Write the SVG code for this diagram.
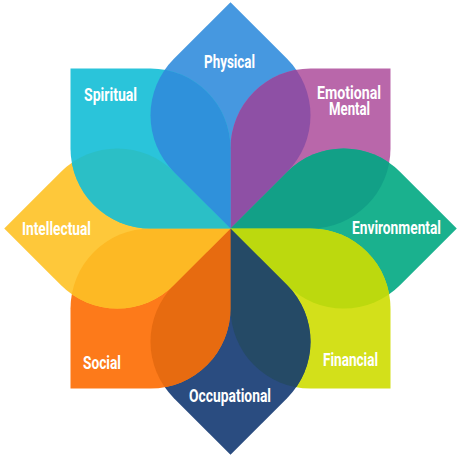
<svg xmlns="http://www.w3.org/2000/svg" xmlns:xlink="http://www.w3.org/1999/xlink" width="458" height="457" viewBox="0 0 458 457">
<style>
text{font-family:Roboto,"Liberation Sans",sans-serif;font-weight:700;font-size:18px;fill:#ffffff;text-anchor:middle}
</style>
<defs>
<path id="petal" d="M230.5,228.5 L173.93,171.93 A80,80 0 0 1 173.93,58.8 L230.5,2.23 L287.07,58.8 A80,80 0 0 1 287.07,171.93 Z"/>
<clipPath id="c0"><use href="#petal"/></clipPath>
<clipPath id="c45"><use href="#petal" transform="rotate(45 230.5 228.5)"/></clipPath>
<clipPath id="c90"><use href="#petal" transform="rotate(90 230.5 228.5)"/></clipPath>
<clipPath id="c135"><use href="#petal" transform="rotate(135 230.5 228.5)"/></clipPath>
<clipPath id="c180"><use href="#petal" transform="rotate(180 230.5 228.5)"/></clipPath>
<clipPath id="c225"><use href="#petal" transform="rotate(225 230.5 228.5)"/></clipPath>
<clipPath id="c270"><use href="#petal" transform="rotate(270 230.5 228.5)"/></clipPath>
<clipPath id="c315"><use href="#petal" transform="rotate(315 230.5 228.5)"/></clipPath>
</defs>
<g id="petals">
<use href="#petal" fill="#4698e0"/>
<use href="#petal" transform="rotate(45 230.5 228.5)" fill="#b967aa"/>
<use href="#petal" transform="rotate(90 230.5 228.5)" fill="#1ab18e"/>
<use href="#petal" transform="rotate(135 230.5 228.5)" fill="#d3e01a"/>
<use href="#petal" transform="rotate(180 230.5 228.5)" fill="#2a4c80"/>
<use href="#petal" transform="rotate(225 230.5 228.5)" fill="#fd7a1a"/>
<use href="#petal" transform="rotate(270 230.5 228.5)" fill="#fec83a"/>
<use href="#petal" transform="rotate(315 230.5 228.5)" fill="#2ac4da"/>
</g>
<g id="overlaps">
<g clip-path="url(#c0)"><use href="#petal" transform="rotate(45 230.5 228.5)" fill="#8e50a5"/></g>
<g clip-path="url(#c45)"><use href="#petal" transform="rotate(90 230.5 228.5)" fill="#12a087"/></g>
<g clip-path="url(#c90)"><use href="#petal" transform="rotate(135 230.5 228.5)" fill="#bcd90e"/></g>
<g clip-path="url(#c135)"><use href="#petal" transform="rotate(180 230.5 228.5)" fill="#254a66"/></g>
<g clip-path="url(#c180)"><use href="#petal" transform="rotate(225 230.5 228.5)" fill="#e76b10"/></g>
<g clip-path="url(#c225)"><use href="#petal" transform="rotate(270 230.5 228.5)" fill="#fdb924"/></g>
<g clip-path="url(#c270)"><use href="#petal" transform="rotate(315 230.5 228.5)" fill="#2bbfc6"/></g>
<g clip-path="url(#c315)"><use href="#petal" fill="#2f91db"/></g>
</g>
<g id="connectors"></g>
<g id="physical"><text x="229.5" y="68" textLength="51" lengthAdjust="spacingAndGlyphs">Physical</text></g>
<g id="emotional-mental"><text x="349" y="99" textLength="64" lengthAdjust="spacingAndGlyphs">Emotional</text><text x="349.5" y="115" textLength="41" lengthAdjust="spacingAndGlyphs">Mental</text></g>
<g id="environmental"><text x="396.5" y="234" textLength="89" lengthAdjust="spacingAndGlyphs">Environmental</text></g>
<g id="financial"><text x="350.5" y="366" textLength="55" lengthAdjust="spacingAndGlyphs">Financial</text></g>
<g id="occupational"><text x="230" y="402" textLength="82" lengthAdjust="spacingAndGlyphs">Occupational</text></g>
<g id="social"><text x="102" y="369" textLength="38" lengthAdjust="spacingAndGlyphs">Social</text></g>
<g id="intellectual"><text x="56.5" y="235" textLength="69" lengthAdjust="spacingAndGlyphs">Intellectual</text></g>
<g id="spiritual"><text x="110.5" y="100.5" textLength="53" lengthAdjust="spacingAndGlyphs">Spiritual</text></g>
</svg>
